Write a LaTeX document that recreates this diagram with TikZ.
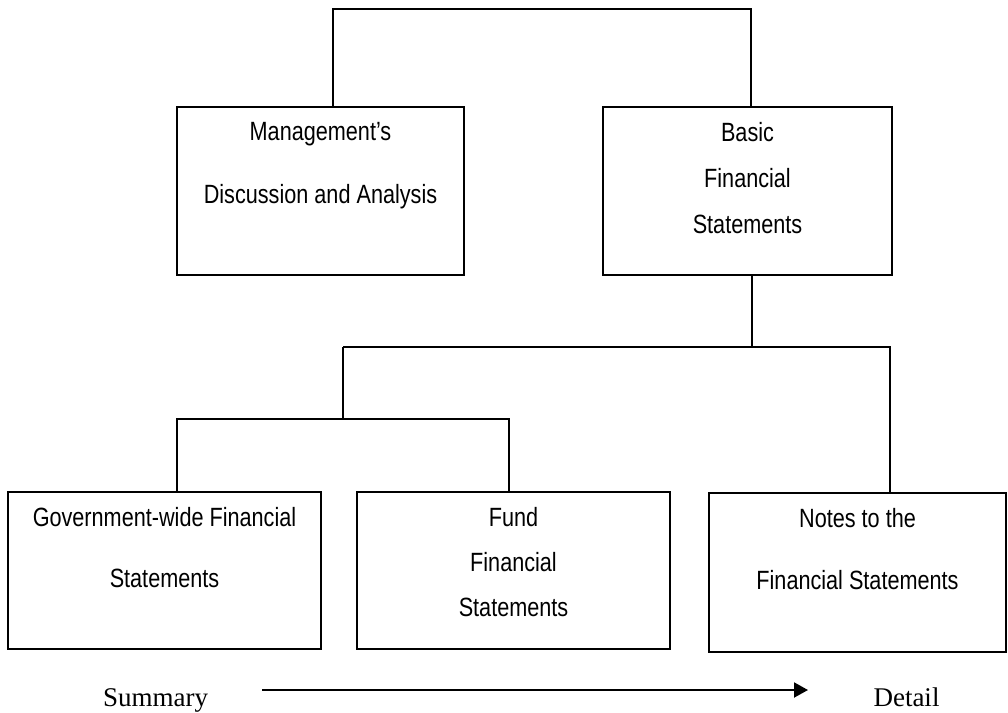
\documentclass[tikz,border=0pt]{standalone}
\usepackage{fontspec}
\usepackage{tikz}
\usetikzlibrary{positioning,arrows.meta}
\newfontfamily\boxfont[FakeStretch=0.82]{Liberation Sans}
\newfontfamily\axisfont{Liberation Serif}

\tikzset{
	stmt/.style={draw, line width=1pt, inner sep=0pt},
	stmttext/.style={align=center, inner sep=0pt},
	link/.style={line width=1pt}
}

\begin{document}
\begin{tikzpicture}[x=0.5pt, y=-0.5pt]
			\useasboundingbox (0,0) rectangle (1008,713);
			\node[stmt, minimum width=143.5pt, minimum height=84pt] (mda) at (320.5,191) {};
			\node[stmt, minimum width=144.5pt, minimum height=84pt] (bfs) at (747.5,191) {};
			\node[stmt, minimum width=156.5pt, minimum height=78.5pt] (gwfs) at (164.5,570.5) {};
			\node[stmt, minimum width=156.5pt, minimum height=78.5pt] (ffs) at (513.5,570.5) {};
			\node[stmt, minimum width=148.5pt, minimum height=79.5pt] (notes) at (857.5,572.5) {};
			\node[stmttext, font={\boxfont\fontsize{13.2}{31.5}\selectfont}, below=8.2pt of mda.north] (mdatext) {Management’s\\Discussion and Analysis};
			\node[stmttext, font={\boxfont\fontsize{13.2}{23}\selectfont}, below=8.2pt of bfs.north] (bfstext) {Basic\\Financial\\Statements};
			\node[stmttext, font={\boxfont\fontsize{13.2}{30.5}\selectfont}, below=8.2pt of gwfs.north] (gwfstext) {Government-wide Financial\\Statements};
			\node[stmttext, font={\boxfont\fontsize{13.2}{22.5}\selectfont}, below=8.2pt of ffs.north] (ffstext) {Fund\\Financial\\Statements};
			\node[stmttext, font={\boxfont\fontsize{13.2}{31}\selectfont}, below=8.2pt of notes.north] (notestext) {Notes to the\\Financial Statements};
			\coordinate (fork1) at (752,347);
			\coordinate (fork2) at (343,419);
			\draw[link] ([xshift=6.25pt]mda.north) -- ++(0,-97) -| ([xshift=1.75pt]bfs.north);
			\draw[link] ([xshift=2.25pt]bfs.south) -- (fork1);
			\draw[link] (fork1 -| fork2) -| ([xshift=16.25pt]notes.north);
			\draw[link] (fork1 -| fork2) -- (fork2);
			\draw[link] ([xshift=6.25pt]gwfs.north) |- (fork2) -| ([xshift=-2.25pt]ffs.north);
			\node[font={\axisfont\fontsize{13.5}{15}\selectfont}, anchor=base, inner sep=0pt] (summary) at (155.5,706) {Summary};
			\node[font={\axisfont\fontsize{13.5}{15}\selectfont}, anchor=base, inner sep=0pt] (detail) at (906.5,706) {Detail};
			\coordinate (arrowstart) at (262,690);
			\coordinate (arrowend) at (808,690);
			\draw[link, -{Triangle[length=7pt, width=7.5pt]}] (arrowstart) -- (arrowend);
		\end{tikzpicture}
\end{document}
